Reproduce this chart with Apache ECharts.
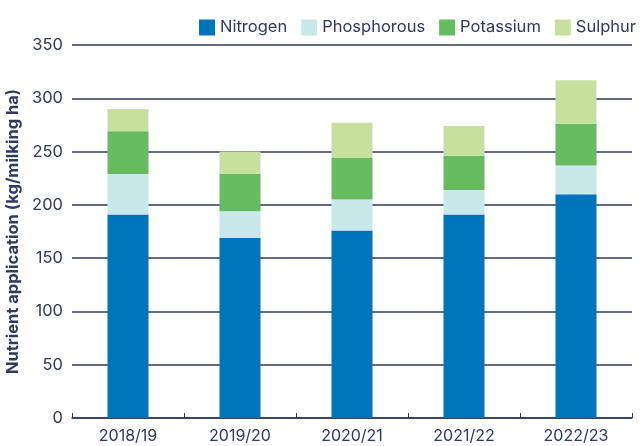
<!DOCTYPE html>
<html><head><meta charset="utf-8">
<script src="https://cdn.jsdelivr.net/npm/echarts@6/dist/echarts.min.js"></script>
<style>html,body{margin:0;padding:0;background:#fff}#c{width:643px;height:446px}</style>
</head><body><div id="c"></div>
<script>
const categories = ['2018/19','2019/20','2020/21','2021/22','2022/23'];
const nitrogen = [191, 169, 176, 191, 210];
const phosphorous = [38, 25, 29, 23, 27];
const potassium = [40, 35, 39, 32, 39];
const sulphur = [21, 21, 33, 28, 41];
const seriesNames = ['Nitrogen','Phosphorous','Potassium','Sulphur'];
const colors = ['#0074bb','#c9e8ea','#66bb61','#c8e09e'];
const txt = '#2e3a5e';
const font = 'Inter, "Noto Sans", sans-serif';
const vals = [nitrogen, phosphorous, potassium, sulphur];
const chart = echarts.init(document.getElementById('c'), null, {renderer:'canvas'});
chart.setOption({
  animation:false,
  color: colors,
  textStyle:{fontFamily:font},
  legend:{
    top:14, right:2, itemWidth:16, itemHeight:16, itemGap:14, icon:'rect',
    textStyle:{fontSize:16.5, color:txt, fontFamily:font},
    data: seriesNames
  },
  grid:{left:72, right:11, top:45, bottom:28, containLabel:false, outerBoundsMode:'none'},
  xAxis:{
    type:'category', data:categories,
    axisLine:{show:true, lineStyle:{color:txt, width:1.5}},
    axisTick:{show:true, inside:true, length:5, lineStyle:{color:txt, width:1}},
    axisLabel:{color:txt, fontSize:16, margin:10, fontFamily:font}
  },
  yAxis:{
    type:'value', min:0, max:350, interval:50,
    name:'Nutrient application (kg/milking ha)', nameLocation:'middle', nameGap:45,
    nameTextStyle:{color:txt, fontSize:16.5, fontWeight:'bold', fontFamily:font},
    axisLine:{show:false}, axisTick:{show:false},
    axisLabel:{color:txt, fontSize:16.5, margin:9, fontFamily:font},
    splitLine:{lineStyle:{color:'#2f3a5c', width:1.5}}
  },
  series: seriesNames.map((n,i)=>({
    name:n, type:'bar', stack:'total', data:vals[i], barWidth:41,
    itemStyle:{color:colors[i]}
  }))
});
</script></body></html>
